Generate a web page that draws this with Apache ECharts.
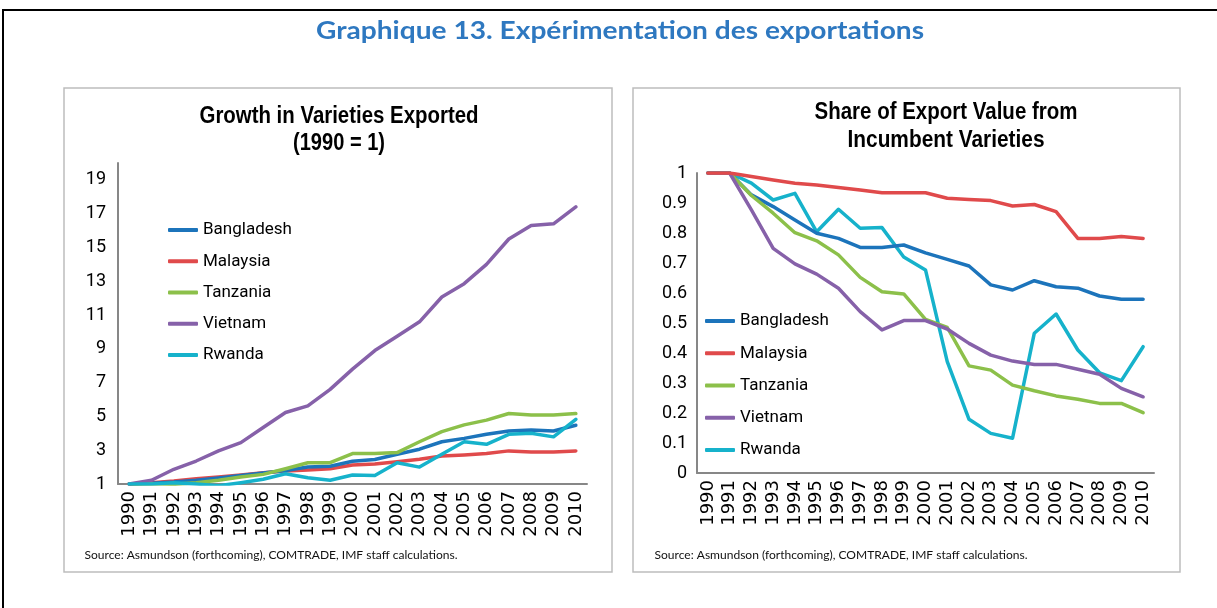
<!DOCTYPE html>
<html>
<head>
<meta charset="utf-8">
<script src="https://cdn.jsdelivr.net/npm/echarts@6/dist/echarts.min.js"></script>
<style>
html,body{margin:0;padding:0;background:#fff;}
#chart{width:1217px;height:608px;}
</style>
</head>
<body>
<div id="chart"></div>
<script>
const years = ['1990','1991','1992','1993','1994','1995','1996','1997','1998','1999','2000','2001','2002','2003','2004','2005','2006','2007','2008','2009','2010'];
const countries = ['Bangladesh','Malaysia','Tanzania','Vietnam','Rwanda'];
const colors = ['#1c74bb','#e04a4b','#8cc04a','#8661a9','#16b2cb'];

// Left panel: Growth in Varieties Exported (1990 = 1)
const growthBangladesh = [1,1.05,1.12,1.22,1.35,1.5,1.65,1.8,2.0,2.05,2.35,2.45,2.76,3.06,3.5,3.7,3.94,4.14,4.2,4.14,4.48];
const growthMalaysia   = [1,1.08,1.18,1.31,1.41,1.53,1.67,1.77,1.83,1.9,2.13,2.18,2.32,2.46,2.66,2.72,2.8,2.96,2.9,2.9,2.96];
const growthTanzania   = [1,1.02,0.98,1.08,1.22,1.41,1.57,1.9,2.26,2.26,2.8,2.8,2.86,3.5,4.1,4.5,4.78,5.17,5.09,5.09,5.17];
const growthVietnam    = [1,1.22,1.87,2.36,2.96,3.45,4.34,5.23,5.62,6.6,7.8,8.9,9.75,10.6,12.07,12.86,14.0,15.5,16.3,16.4,17.4];
const growthRwanda     = [1,1.0,1.08,1.0,0.9,1.08,1.28,1.61,1.37,1.22,1.53,1.5,2.26,2.0,2.76,3.5,3.35,3.94,4.0,3.79,4.83];

// Right panel: Share of Export Value from Incumbent Varieties
const shareBangladesh = [1,1,0.927,0.888,0.843,0.799,0.782,0.752,0.752,0.76,0.734,0.712,0.69,0.627,0.61,0.641,0.621,0.616,0.59,0.579,0.579];
const shareMalaysia   = [1,1,0.988,0.977,0.966,0.96,0.952,0.943,0.934,0.934,0.934,0.916,0.912,0.908,0.89,0.895,0.871,0.782,0.782,0.788,0.782];
const shareTanzania   = [1,1,0.925,0.866,0.801,0.774,0.727,0.652,0.604,0.597,0.512,0.485,0.357,0.343,0.293,0.274,0.257,0.246,0.232,0.232,0.201];
const shareVietnam    = [1,1,0.877,0.749,0.697,0.663,0.616,0.538,0.477,0.508,0.508,0.48,0.432,0.393,0.373,0.362,0.362,0.346,0.329,0.282,0.254];
const shareRwanda     = [1,1,0.966,0.91,0.932,0.804,0.879,0.816,0.818,0.72,0.677,0.371,0.179,0.132,0.116,0.466,0.53,0.41,0.334,0.308,0.421];

const leftYTicks = {min:1, max:20, interval:2};
const rightYTicks = {min:0, max:1, interval:0.1};

const mainTitle = 'Graphique 13. Expérimentation des exportations';
const leftTitle = ['Growth in Varieties Exported','(1990 = 1)'];
const rightTitle = ['Share of Export Value from','Incumbent Varieties'];
const sourceText = 'Source: Asmundson (forthcoming), COMTRADE, IMF staff calculations.';

const growthSeries = [growthBangladesh, growthMalaysia, growthTanzania, growthVietnam, growthRwanda];
const shareSeries = [shareBangladesh, shareMalaysia, shareTanzania, shareVietnam, shareRwanda];

const NARROW = "Roboto,'Liberation Sans',sans-serif";

const ctx = document.createElement('canvas').getContext('2d');
function fitScale(text, font, target){
  ctx.font = font;
  const w = ctx.measureText(text).width;
  return w > 0 ? target / w : 1;
}
function fitText(text, x, y, family, size, weight, color, targetW){
  const font = weight + ' ' + size + 'px ' + family;
  const s = fitScale(text, font, targetW);
  return {
    type:'text', x:x, y:y, scaleX:s, originX:0, originY:0, z:10,
    style:{text:text, x:0, y:0, align:'center', verticalAlign:'middle',
      fontFamily:family, fontSize:size, fontWeight:weight, fill:color}
  };
}

const chart = echarts.init(document.getElementById('chart'));

function mkSeries(arr, gridIdx){
  return arr.map((d,i)=>({
    name: countries[i], type:'line', data:d, xAxisIndex:gridIdx, yAxisIndex:gridIdx,
    showSymbol:false, symbol:'none', smooth:false,
    lineStyle:{width:3.5, color:colors[i], cap:'round', join:'round'},
    itemStyle:{color:colors[i]}, z: 2 + (gridIdx===0 ? [2,1,3,4,5][i] : [2,5,3,4,1][i]),
    emphasis:{disabled:true}, silent:true, animation:false
  }));
}

function xAxisCfg(gridIdx){
  return {
    type:'category', gridIndex:gridIdx, data:years, boundaryGap:true,
    axisLine:{lineStyle:{color:'#878787', width:2}},
    axisTick:{show:false},
    axisLabel:{rotate:90, fontSize:18, color:'#000', margin:7, interval:0,
      fontFamily:"'DejaVu Sans',sans-serif"}
  };
}
function yAxisCfg(gridIdx, t, dec){
  return {
    type:'value', gridIndex:gridIdx, min:t.min, max:t.max, interval:t.interval,
    axisLine:{show:true, lineStyle:{color:'#878787', width:2}},
    axisTick:{show:false}, splitLine:{show:false},
    axisLabel:{fontSize:18, color:'#000', margin: gridIdx===0 ? 12 : 10, fontFamily:NARROW, showMaxLabel: gridIdx===1,
      formatter: v => dec ? String(Math.round(v*10)/10) : String(v)}
  };
}

const legendBase = {
  orient:'vertical', itemWidth:30, itemHeight:4, icon:'roundRect',
  textStyle:{fontSize:17, color:'#000', fontFamily:NARROW, lineHeight:20},
  selectedMode:false, data:countries
};

const option = {
  animation:false,
  backgroundColor:'#fff',
  color: colors,
  grid:[
    {left:118, top:163, width:469, height:321},
    {left:697, top:173, width:457, height:300}
  ],
  xAxis:[xAxisCfg(0), xAxisCfg(1)],
  yAxis:[yAxisCfg(0, leftYTicks, false), yAxisCfg(1, rightYTicks, true)],
  legend:[
    Object.assign({}, legendBase, {left:163, top:215, itemGap:11.25}),
    Object.assign({}, legendBase, {left:700, top:306, itemGap:12.25})
  ],
  series: mkSeries(growthSeries,0).concat(mkSeries(shareSeries,1)),
  graphic:[
    {type:'rect', shape:{x:3,y:10,width:1230,height:620}, style:{fill:null, stroke:'#000', lineWidth:2}, silent:true, z:-5},
    {type:'rect', shape:{x:64,y:88,width:548,height:484}, style:{fill:null, stroke:'#bdbdbd', lineWidth:1.5}, silent:true, z:-4},
    {type:'rect', shape:{x:633,y:88,width:547,height:484}, style:{fill:null, stroke:'#bdbdbd', lineWidth:1.5}, silent:true, z:-4},
    fitText(mainTitle, 620, 31, "Lato,'Open Sans',sans-serif", 24, 'bold', '#2e78c0', 608),
    fitText(leftTitle[0], 339, 117, "'Liberation Sans',Arial,sans-serif", 23, 'bold', '#000', 279),
    fitText(leftTitle[1], 339, 144, "'Liberation Sans',Arial,sans-serif", 23, 'bold', '#000', 92),
    fitText(rightTitle[0], 946, 113, "'Liberation Sans',Arial,sans-serif", 23, 'bold', '#000', 263),
    fitText(rightTitle[1], 946, 141, "'Liberation Sans',Arial,sans-serif", 23, 'bold', '#000', 197),
    fitText(sourceText, 271, 555, "Lato,'Open Sans',sans-serif", 12, 'normal', '#111', 373),
    fitText(sourceText, 841, 555, "Lato,'Open Sans',sans-serif", 12, 'normal', '#111', 373)
  ]
};
chart.setOption(option);
</script>
</body>
</html>
